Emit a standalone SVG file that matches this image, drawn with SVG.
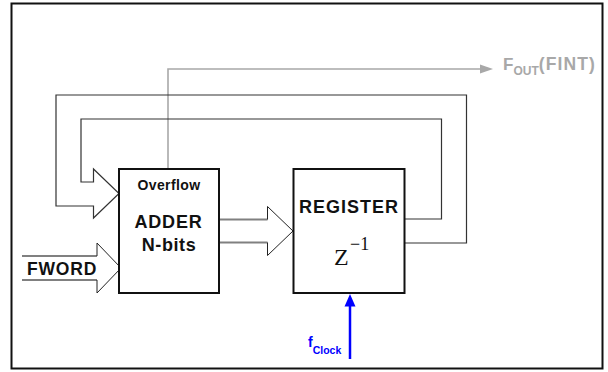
<svg xmlns="http://www.w3.org/2000/svg" width="608" height="372" viewBox="0 0 608 372">
<defs>
<style>
.box{fill:#fff;stroke:#111;stroke-width:2}
.lbl{font-family:"Liberation Sans",Arial,sans-serif;font-weight:bold;fill:#111}
.loop{fill:none;stroke:#333;stroke-width:1.2}
.stem{fill:none;stroke:#808080;stroke-width:1.8}
.head{fill:none;stroke:#222;stroke-width:1}
.gray{fill:none;stroke:#a8a8a8;stroke-width:1.6}
.blue{fill:none;stroke:#0000ff;stroke-width:2.5}
</style>
</defs>
<rect x="11.5" y="3.5" width="591" height="365" fill="#fff" stroke="#111" stroke-width="2"/>
<g id="connectors">
  <path class="gray" d="M168 169 V69 H482"/>
  <polygon points="480,64.5 493,69 480,73.5" fill="#a8a8a8"/>
  <path class="loop" d="M405 219 H441.5 V119 H81 V182 H93.5 V169 L119 193.5 L93.5 218 V206 H56 V95 H466.5 V243 H405"/>
  <path class="stem" d="M219 219.5 H267.5 M219 242.5 H267.5"/>
  <path class="head" d="M267.5 219.5 V206.5 L293 231 L267.5 255.5 V242.5"/>
  <path class="stem" d="M22 256 H97 M22 280 H97"/>
  <path class="head" d="M97 256 V243 L121 268 L97 293 V280"/>
  <path class="blue" d="M350 359 V304"/>
  <polygon points="344.5,306.5 350,294 355.5,306.5" fill="#0000ff"/>
</g>
<g id="adder">
  <rect class="box" x="119" y="169" width="100" height="124"/>
  <text class="lbl" x="169" y="190" font-size="14" text-anchor="middle" letter-spacing="0.4">Overflow</text>
  <text class="lbl" x="168.5" y="228" font-size="18" text-anchor="middle" letter-spacing="0.8">ADDER</text>
  <text class="lbl" x="169" y="251" font-size="18" text-anchor="middle" letter-spacing="0.6">N-bits</text>
</g>
<g id="register">
  <rect class="box" x="293.5" y="169" width="111" height="124"/>
  <text class="lbl" x="349" y="212.7" font-size="18" text-anchor="middle" letter-spacing="1">REGISTER</text>
  <text x="334" y="264.5" font-family="'Liberation Serif','Times New Roman',serif" font-size="24" fill="#111">Z</text>
  <text x="350" y="250" font-family="'Liberation Serif','Times New Roman',serif" font-size="18" fill="#111">−1</text>
</g>
<g id="fword">
  <text class="lbl" x="27" y="274.5" font-size="17.5" letter-spacing="0.8">FWORD</text>
</g>
<g id="fout">
  <text x="503" y="70" font-family="'Liberation Sans',Arial,sans-serif" font-weight="bold" font-size="17" fill="#a8a8a8">F<tspan font-size="12" dy="5">OUT</tspan><tspan font-size="17.5" dy="-5" letter-spacing="1.1">(FINT)</tspan></text>
</g>
<g id="fclock">
  <text x="308" y="346.5" font-family="'Liberation Sans',Arial,sans-serif" font-weight="bold" font-size="14" fill="#0000ff">f<tspan font-size="10.5" dy="7.5">Clock</tspan></text>
</g>
</svg>
